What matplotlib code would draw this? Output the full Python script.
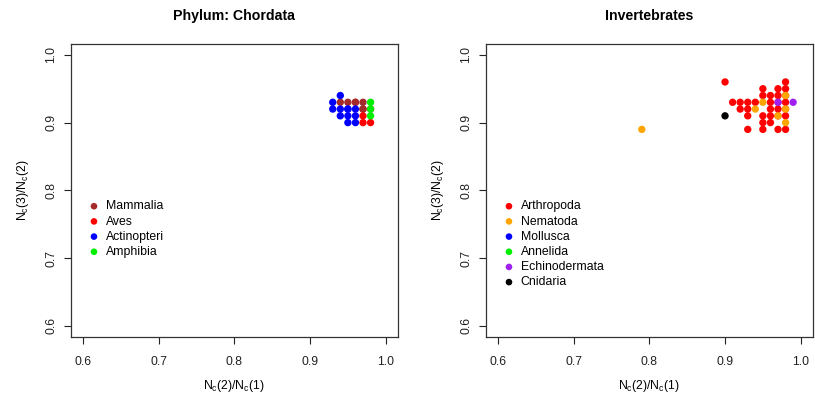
import matplotlib
matplotlib.use("Agg")
import matplotlib.pyplot as plt

plt.rcParams['font.family'] = ['Liberation Sans', 'DejaVu Sans']
plt.rcParams['mathtext.default'] = 'regular'

# ---- Chordata (x = Nc(2)/Nc(1), y = Nc(3)/Nc(2)) ----
chord_groups = ["Mammalia", "Aves", "Actinopteri", "Amphibia"]
chord_colors = ["brown", "red", "blue", "#00ee00"]
mammalia_x = [0.94, 0.95, 0.96, 0.96, 0.97, 0.97, 0.97]
mammalia_y = [0.93, 0.93, 0.93, 0.93, 0.93, 0.92, 0.92]
aves_x = [0.97, 0.97, 0.98, 0.98]
aves_y = [0.91, 0.90, 0.90, 0.92]
actino_x = [0.94, 0.93, 0.93, 0.94, 0.95, 0.96, 0.94, 0.95, 0.96, 0.95, 0.96, 0.95]
actino_y = [0.94, 0.93, 0.92, 0.92, 0.92, 0.92, 0.91, 0.91, 0.91, 0.90, 0.90, 0.92]
amphib_x = [0.98, 0.98, 0.98]
amphib_y = [0.93, 0.92, 0.91]

# ---- Invertebrates ----
inv_groups = ["Arthropoda", "Nematoda", "Mollusca", "Annelida", "Echinodermata", "Cnidaria"]
inv_colors = ["red", "orange", "blue", "#00ee00", "#a020f0", "black"]
arthro_x = [0.90, 0.98,
            0.95, 0.97, 0.98,
            0.95, 0.96, 0.97, 0.98,
            0.91, 0.92, 0.93, 0.94, 0.96, 0.97, 0.98,
            0.92, 0.93, 0.96, 0.97, 0.98,
            0.93, 0.95, 0.96, 0.98, 0.97,
            0.95, 0.96,
            0.93, 0.95, 0.97, 0.98]
arthro_y = [0.96, 0.96,
            0.95, 0.95, 0.95,
            0.94, 0.94, 0.94, 0.94,
            0.93, 0.93, 0.93, 0.93, 0.93, 0.93, 0.93,
            0.92, 0.92, 0.92, 0.92, 0.92,
            0.91, 0.91, 0.91, 0.91, 0.91,
            0.90, 0.90,
            0.89, 0.89, 0.89, 0.89]
nemat_x = [0.98, 0.95, 0.94, 0.98, 0.97, 0.98, 0.79]
nemat_y = [0.94, 0.93, 0.92, 0.92, 0.91, 0.90, 0.89]
mollusca_x, mollusca_y = [], []
annelida_x, annelida_y = [], []
echino_x = [0.97, 0.99]
echino_y = [0.93, 0.93]
cnid_x = [0.90]
cnid_y = [0.91]

ticks = [0.6, 0.7, 0.8, 0.9, 1.0]
tick_labels = ["0.6", "0.7", "0.8", "0.9", "1.0"]


def style(ax, title):
    ax.set_xlim(0.584, 1.016)
    ax.set_ylim(0.584, 1.016)
    ax.set_xticks(ticks)
    ax.set_xticklabels(tick_labels)
    ax.set_yticks(ticks)
    ax.set_yticklabels(tick_labels, rotation=90, va="center")
    ax.tick_params(direction="out", length=5, width=0.8, labelsize=8.8,
                   colors="#222222")
    ax.tick_params(axis="x", pad=9)
    ax.tick_params(axis="y", pad=5)
    for s in ax.spines.values():
        s.set_linewidth(0.9)
        s.set_color("#333333")
    ax.set_title(title, fontsize=10.2, fontweight="bold", pad=17)
    ax.set_xlabel("N$_c$(2)/N$_c$(1)", fontsize=8.8, labelpad=7)
    ax.set_ylabel("N$_c$(3)/N$_c$(2)", fontsize=8.8, labelpad=10)


def add_legend(ax):
    ax.legend(loc="upper left", bbox_to_anchor=(0.018, 0.499), frameon=False,
              fontsize=8.8, handletextpad=0.35, labelspacing=0.26, markerscale=0.9,
              borderpad=0.3, handlelength=1.2)


fig = plt.figure(figsize=(8.15, 3.98), dpi=100)
ax1 = fig.add_axes([0.0871, 0.154, 0.401, 0.7354])
ax2 = fig.add_axes([0.5963, 0.154, 0.401, 0.7354])

chord_data = [(mammalia_x, mammalia_y), (aves_x, aves_y),
              (actino_x, actino_y), (amphib_x, amphib_y)]
for (xs, ys), name, c in zip(chord_data, chord_groups, chord_colors):
    ax1.scatter(xs, ys, s=28, color=c, edgecolors="none", label=name)
style(ax1, "Phylum: Chordata")
add_legend(ax1)

inv_data = [(arthro_x, arthro_y), (nemat_x, nemat_y), (mollusca_x, mollusca_y),
            (annelida_x, annelida_y), (echino_x, echino_y), (cnid_x, cnid_y)]
for (xs, ys), name, c in zip(inv_data, inv_groups, inv_colors):
    ax2.scatter(xs, ys, s=28, color=c, edgecolors="none", label=name)
style(ax2, "Invertebrates")
add_legend(ax2)

fig.savefig("out.png", dpi=100)
